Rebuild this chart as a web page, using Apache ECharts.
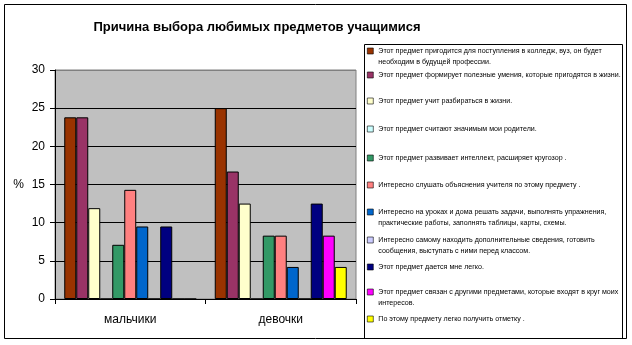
<!DOCTYPE html>
<html>
<head>
<meta charset="utf-8">
<script src="https://cdn.jsdelivr.net/npm/echarts@6/dist/echarts.min.js"></script>
<style>
  html, body { margin: 0; padding: 0; background: #fff; }
  #chart { width: 632px; height: 345px; }
</style>
</head>
<body>
<div id="chart"></div>
<script>
// groups on the x axis
const groups = ['мальчики', 'девочки'];

// reasons (series names), with the line breaks the legend uses
const reasons = [
    'Этот предмет пригодится для поступления в колледж, вуз, он будет\nнеобходим в будущей профессии.',
    'Этот предмет формирует полезные умения, которые пригодятся в жизни.',
    'Этот предмет учит разбираться в жизни.',
    'Этот предмет считают значимым мои родители.',
    'Этот предмет развивает интеллект, расширяет кругозор .',
    'Интересно слушать объяснения учителя по этому предмету .',
    'Интересно на уроках и дома решать задачи, выполнять упражнения,\nпрактические работы, заполнять таблицы, карты, схемы.',
    'Интересно самому находить дополнительные сведения, готовить\nсообщения, выступать с ними перед классом.',
    'Этот предмет дается мне легко.',
    'Этот предмет связан с другими предметами, которые входят в круг моих\nинтересов.',
    'По этому предмету легко получить отметку .'
];

// percent per reason: [мальчики, девочки]
const boys  = [23.8, 23.8, 11.9, 0, 7.1, 14.3, 9.5, 0, 9.5, 0, 0];
const girls = [25.0, 16.7, 12.5, 0, 8.3, 8.3, 4.2, 0, 12.5, 8.3, 4.2];

const yTicks = [0, 5, 10, 15, 20, 25, 30];

const colors = ['#993300', '#993366', '#FFFFCC', '#CCFFFF', '#339966', '#FF8080',
    '#0066CC', '#CCCCFF', '#000080', '#FF00FF', '#FFFF00'];

// first-line centre of each legend entry (px)
const legendY = [51, 75, 101, 129, 158, 185, 212, 240, 267, 292, 319];
const lh = 11;

const font = 'Liberation Sans, Arial, sans-serif';
const chart = echarts.init(document.getElementById('chart'));

const legends = reasons.map(function (name, i) {
    const twoLines = name.indexOf('\n') >= 0;
    return {
        data: [name],
        orient: 'vertical',
        left: 367,
        // wrapped entries get an empty first line so the marker sits on line one
        top: twoLines ? legendY[i] - 1.5 * lh : legendY[i] - lh / 2,
        padding: 0,
        icon: 'rect',
        itemWidth: 6,
        itemHeight: 6,
        itemStyle: { borderWidth: 0.6 },
        selectedMode: false,
        formatter: function (n) {
            return n.indexOf('\n') >= 0 ? '\n' + n : n;
        },
        textStyle: {
            fontFamily: font,
            fontSize: 7.1,
            lineHeight: lh,
            color: '#000'
        }
    };
});

const options = {
    animation: false,
    backgroundColor: '#fff',
    title: {
        text: 'Причина выбора любимых предметов учащимися',
        left: 257,
        top: 21,
        padding: 0,
        textAlign: 'center',
        textStyle: {
            fontFamily: font,
            fontSize: 13,
            fontWeight: 'bold',
            color: '#000'
        }
    },
    legend: legends,
    grid: {
        show: true,
        left: 55,
        top: 70,
        right: 276,
        bottom: 46,
        backgroundColor: '#C0C0C0',
        borderColor: '#808080',
        borderWidth: 1
    },
    xAxis: {
        type: 'category',
        data: groups,
        axisLine: { lineStyle: { color: '#000', width: 1 } },
        axisTick: { show: true, length: 5, lineStyle: { color: '#000' } },
        axisLabel: {
            margin: 15,
            fontFamily: font,
            fontSize: 12,
            color: '#000'
        },
        splitLine: { show: false }
    },
    yAxis: {
        type: 'value',
        min: yTicks[0],
        max: yTicks[yTicks.length - 1],
        interval: yTicks[1] - yTicks[0],
        name: '%',
        nameLocation: 'middle',
        nameRotate: 0,
        nameGap: 31,
        nameTextStyle: { fontFamily: font, fontSize: 12, color: '#000' },
        axisLine: { show: true, lineStyle: { color: '#000', width: 1 } },
        axisTick: { show: true, length: 5, lineStyle: { color: '#000' } },
        axisLabel: {
            margin: 10,
            fontFamily: font,
            fontSize: 12,
            color: '#000'
        },
        splitLine: {
            show: true,
            lineStyle: {
                color: ['#000', '#000', '#000', '#000', '#000', '#000', '#808080'],
                width: 1
            }
        }
    },
    series: reasons.map(function (name, i) {
        return {
            name: name,
            type: 'bar',
            barGap: '0%',
            barCategoryGap: '12.3%',
            itemStyle: { color: colors[i], borderColor: '#000', borderWidth: 1 },
            data: [boys[i], girls[i]]
        };
    }),
    graphic: [
        {
            type: 'rect',
            shape: { x: 4.5, y: 4.5, width: 622, height: 334 },
            style: { fill: null, stroke: '#000', lineWidth: 1 },
            silent: true
        },
        {
            type: 'rect',
            shape: { x: 364.5, y: 44.5, width: 258, height: 294 },
            style: { fill: null, stroke: '#000', lineWidth: 1 },
            silent: true
        }
    ]
};

chart.setOption(options);
</script>
</body>
</html>
